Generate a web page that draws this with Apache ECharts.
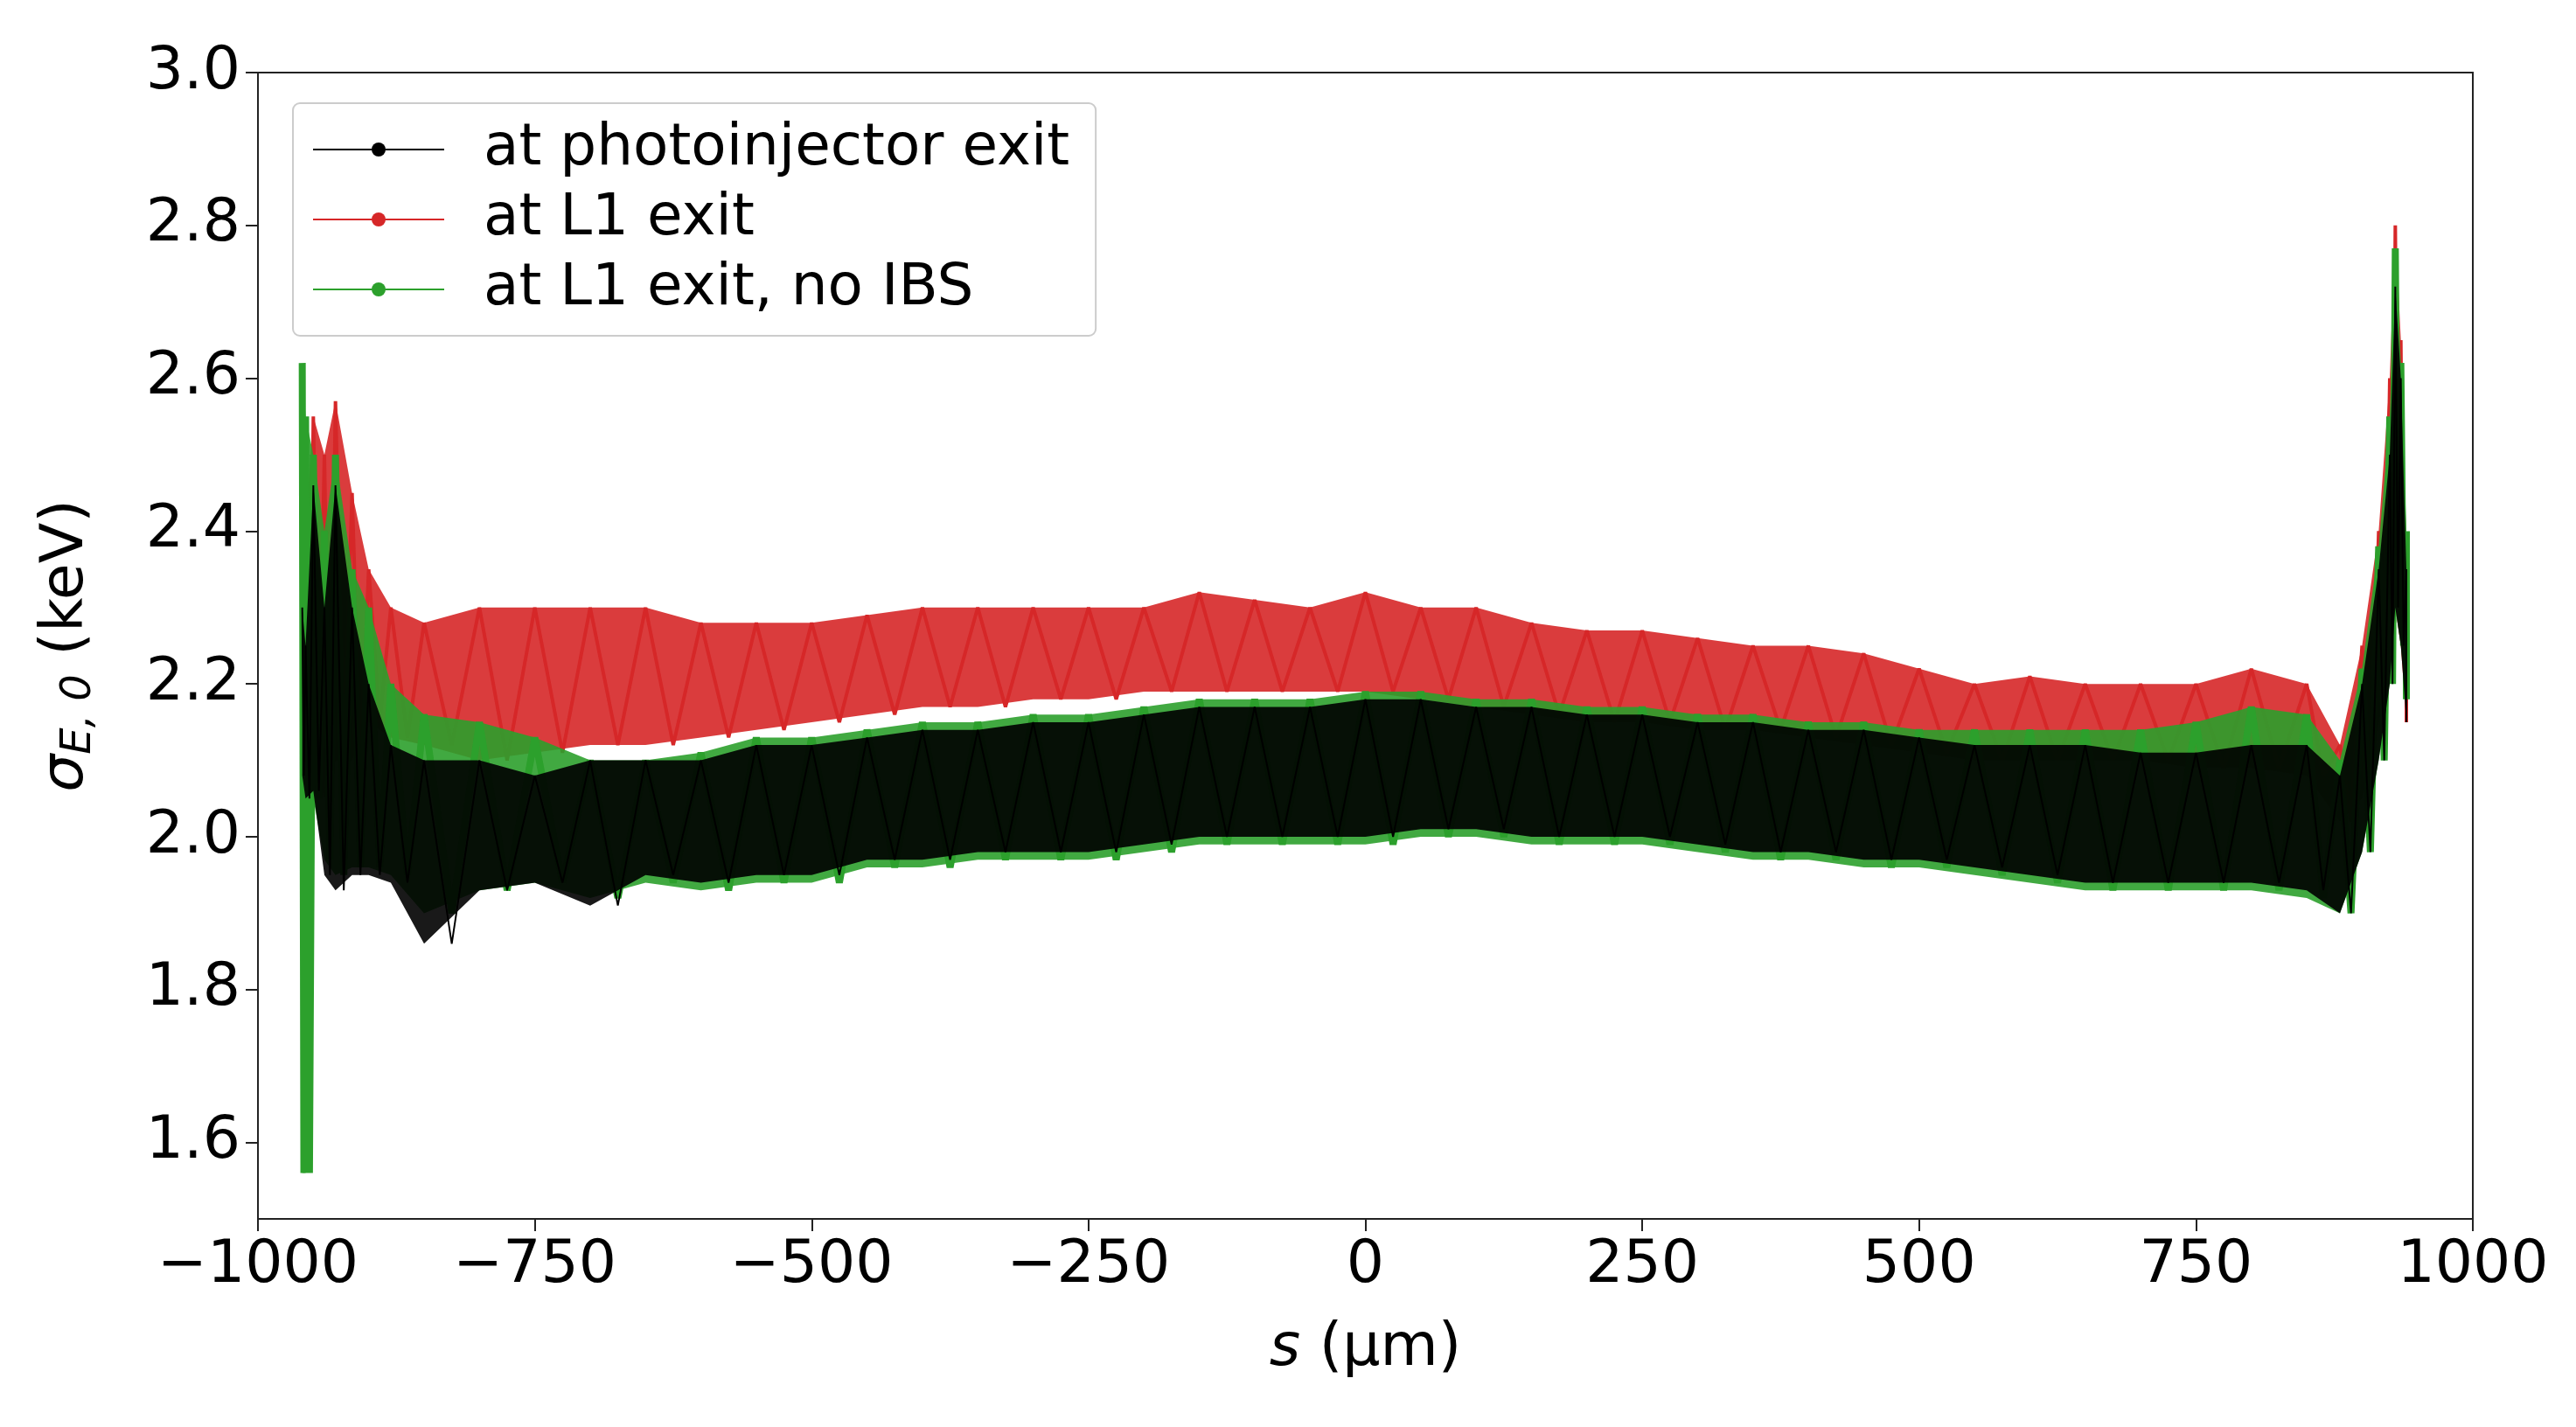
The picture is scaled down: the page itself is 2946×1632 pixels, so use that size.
<!DOCTYPE html>
<html>
<head>
<meta charset="UTF-8">
<title>sigma E</title>
<script src="https://cdn.jsdelivr.net/npm/echarts@6/dist/echarts.min.js"></script>
</head>
<body style="margin:0;background:#fff;">
<div id="chart" style="width:2946px;height:1632px;"></div>
<script>
// s positions (um)
var xs = [-960,-957,-950,-940,-930,-915,-900,-880,-850,-800,-750,-700,-650,-600,-550,-500,-450,-400,-350,-300,-250,-200,-150,-100,-50,0,50,100,150,200,250,300,350,400,450,500,550,600,650,700,750,800,850,880,900,915,925,930,935,940];

// upper / lower envelopes of the noisy curves (keV)
var blackHi = [2.30,2.25,2.46,2.30,2.46,2.30,2.20,2.12,2.10,2.10,2.08,2.10,2.10,2.10,2.12,2.12,2.13,2.14,2.14,2.15,2.15,2.16,2.17,2.17,2.17,2.18,2.18,2.17,2.17,2.16,2.16,2.15,2.15,2.14,2.14,2.13,2.12,2.12,2.12,2.11,2.11,2.12,2.12,2.08,2.20,2.35,2.50,2.72,2.60,2.35];
var blackLo = [2.08,2.05,2.06,1.95,1.93,1.95,1.95,1.94,1.86,1.93,1.94,1.91,1.95,1.94,1.95,1.95,1.97,1.97,1.98,1.98,1.98,1.99,2.00,2.00,2.00,2.00,2.01,2.01,2.00,2.00,2.00,1.99,1.98,1.98,1.97,1.97,1.96,1.95,1.94,1.94,1.94,1.94,1.93,1.90,1.98,2.10,2.20,2.30,2.25,2.15];
var greenHi = [2.62,2.55,2.50,2.40,2.50,2.35,2.30,2.20,2.16,2.15,2.13,2.10,2.10,2.11,2.13,2.13,2.14,2.15,2.15,2.16,2.16,2.17,2.18,2.18,2.18,2.19,2.19,2.18,2.18,2.17,2.17,2.16,2.16,2.15,2.15,2.14,2.14,2.14,2.14,2.14,2.15,2.17,2.16,2.10,2.22,2.38,2.55,2.77,2.62,2.40];
var greenLo = [1.56,1.56,2.05,1.97,1.95,1.96,1.96,1.95,1.90,1.93,1.94,1.92,1.94,1.93,1.94,1.94,1.96,1.96,1.97,1.97,1.97,1.98,1.99,1.99,1.99,1.99,2.00,2.00,1.99,1.99,1.99,1.98,1.97,1.97,1.96,1.96,1.95,1.94,1.93,1.93,1.93,1.93,1.92,1.90,1.98,2.10,2.20,2.30,2.25,2.18];
var redHi = [2.30,2.40,2.55,2.50,2.57,2.45,2.35,2.30,2.28,2.30,2.30,2.30,2.30,2.28,2.28,2.28,2.29,2.30,2.30,2.30,2.30,2.30,2.32,2.31,2.30,2.32,2.30,2.30,2.28,2.27,2.27,2.26,2.25,2.25,2.24,2.22,2.20,2.21,2.20,2.20,2.20,2.22,2.20,2.12,2.25,2.40,2.60,2.80,2.65,2.38];
var redLo = [2.10,2.10,2.10,2.05,2.10,2.10,2.15,2.13,2.12,2.10,2.11,2.12,2.12,2.13,2.14,2.15,2.16,2.17,2.17,2.18,2.18,2.19,2.19,2.19,2.19,2.19,2.18,2.17,2.16,2.15,2.15,2.14,2.14,2.13,2.12,2.11,2.10,2.10,2.10,2.10,2.09,2.09,2.08,2.02,2.05,2.15,2.25,2.30,2.25,2.15];

var xTicks = [-1000, -750, -500, -250, 0, 250, 500, 750, 1000];
var yTicks = [1.6, 1.8, 2.0, 2.2, 2.4, 2.6, 2.8, 3.0];

var BLACK = '#000000', RED = '#d62728', GREEN = '#2ca02c';

// zigzag through the envelopes: hi at each s, lo half way to the next s
function zigzag(hi, lo) {
  var out = [];
  for (var i = 0; i < xs.length; i++) {
    out.push([xs[i], hi[i]]);
    var nx = i < xs.length - 1 ? (xs[i] + xs[i + 1]) / 2 : xs[i];
    out.push([nx, lo[i]]);
  }
  return out;
}

function band(hi, lo, color, z) {
  return {
    type: 'custom', z: z, silent: true,
    data: [[0, 0]],
    renderItem: function (params, api) {
      var pts = [];
      for (var i = 0; i < xs.length; i++) pts.push(api.coord([xs[i], hi[i]]));
      for (var j = xs.length - 1; j >= 0; j--) pts.push(api.coord([xs[j], lo[j]]));
      return { type: 'polygon', shape: { points: pts }, style: { fill: color, opacity: 0.9 } };
    }
  };
}

function line(name, hi, lo, color, w, z) {
  return {
    name: name, type: 'line', z: z, showSymbol: false, symbol: 'none',
    data: zigzag(hi, lo), lineStyle: { color: color, width: w }, itemStyle: { color: color }
  };
}

var labelFont = { fontSize: 68, fontFamily: 'DejaVu Sans', color: '#000', margin: 20 };

var chart = echarts.init(document.getElementById('chart'));
chart.setOption({
  animation: false,
  grid: { left: 295, right: 118, top: 83, bottom: 238, show: true, borderColor: '#222', borderWidth: 2 },
  legend: {
    left: 335, top: 118, orient: 'vertical',
    data: ['at photoinjector exit', 'at L1 exit', 'at L1 exit, no IBS'],
    itemWidth: 150, itemHeight: 20, itemGap: 14,
    padding: [20, 30, 20, 22],
    borderColor: '#ccc', borderWidth: 2, borderRadius: 8,
    textStyle: { fontSize: 66, fontFamily: 'DejaVu Sans', color: '#000', padding: [0, 0, 0, 40] }
  },
  xAxis: {
    type: 'value', min: -1000, max: 1000, interval: 250,
    name: '{i|s} (µm)', nameLocation: 'middle', nameGap: 115,
    nameTextStyle: { fontSize: 68, fontFamily: 'DejaVu Sans', color: '#000', rich: { i: { fontSize: 68, fontStyle: 'italic', fontFamily: 'DejaVu Sans' } } },
    axisLine: { onZero: false, lineStyle: { color: '#222', width: 2 } },
    axisTick: { length: 14, lineStyle: { color: '#222', width: 2 } },
    axisLabel: Object.assign({}, labelFont, {
      customValues: xTicks,
      formatter: function (v) { return v < 0 ? '\u2212' + (-v) : '' + v; } }),
    splitLine: { show: false }
  },
  yAxis: {
    type: 'value', min: 1.5, max: 3.0,
    axisLabel: Object.assign({}, labelFont, {
      customValues: yTicks,
      formatter: function (v) { return v.toFixed(1); } }),
    name: '{s|σ}{sub|E, 0} (keV)', nameLocation: 'middle', nameGap: 180, nameRotate: 90,
    nameTextStyle: { fontSize: 68, fontFamily: 'DejaVu Sans', color: '#000',
      rich: { s: { fontSize: 68, fontStyle: 'italic', fontFamily: 'DejaVu Sans' },
              sub: { fontSize: 48, fontStyle: 'italic', fontFamily: 'DejaVu Sans', verticalAlign: 'bottom', padding: [30, 0, 0, 0] } } },
    axisLine: { show: true, onZero: false, lineStyle: { color: '#222', width: 2 } },
    axisTick: { show: true, length: 14, customValues: yTicks, lineStyle: { color: '#222', width: 2 } },
    splitLine: { show: false }
  },
  series: [
    band(redHi, redLo, RED, 1),
    line('at L1 exit', redHi, redLo, RED, 4, 2),
    band(greenHi, greenLo, GREEN, 3),
    line('at L1 exit, no IBS', greenHi, greenLo, GREEN, 8, 4),
    band(blackHi, blackLo, BLACK, 5),
    line('at photoinjector exit', blackHi, blackLo, BLACK, 2, 6)
  ]
});
</script>
</body>
</html>
